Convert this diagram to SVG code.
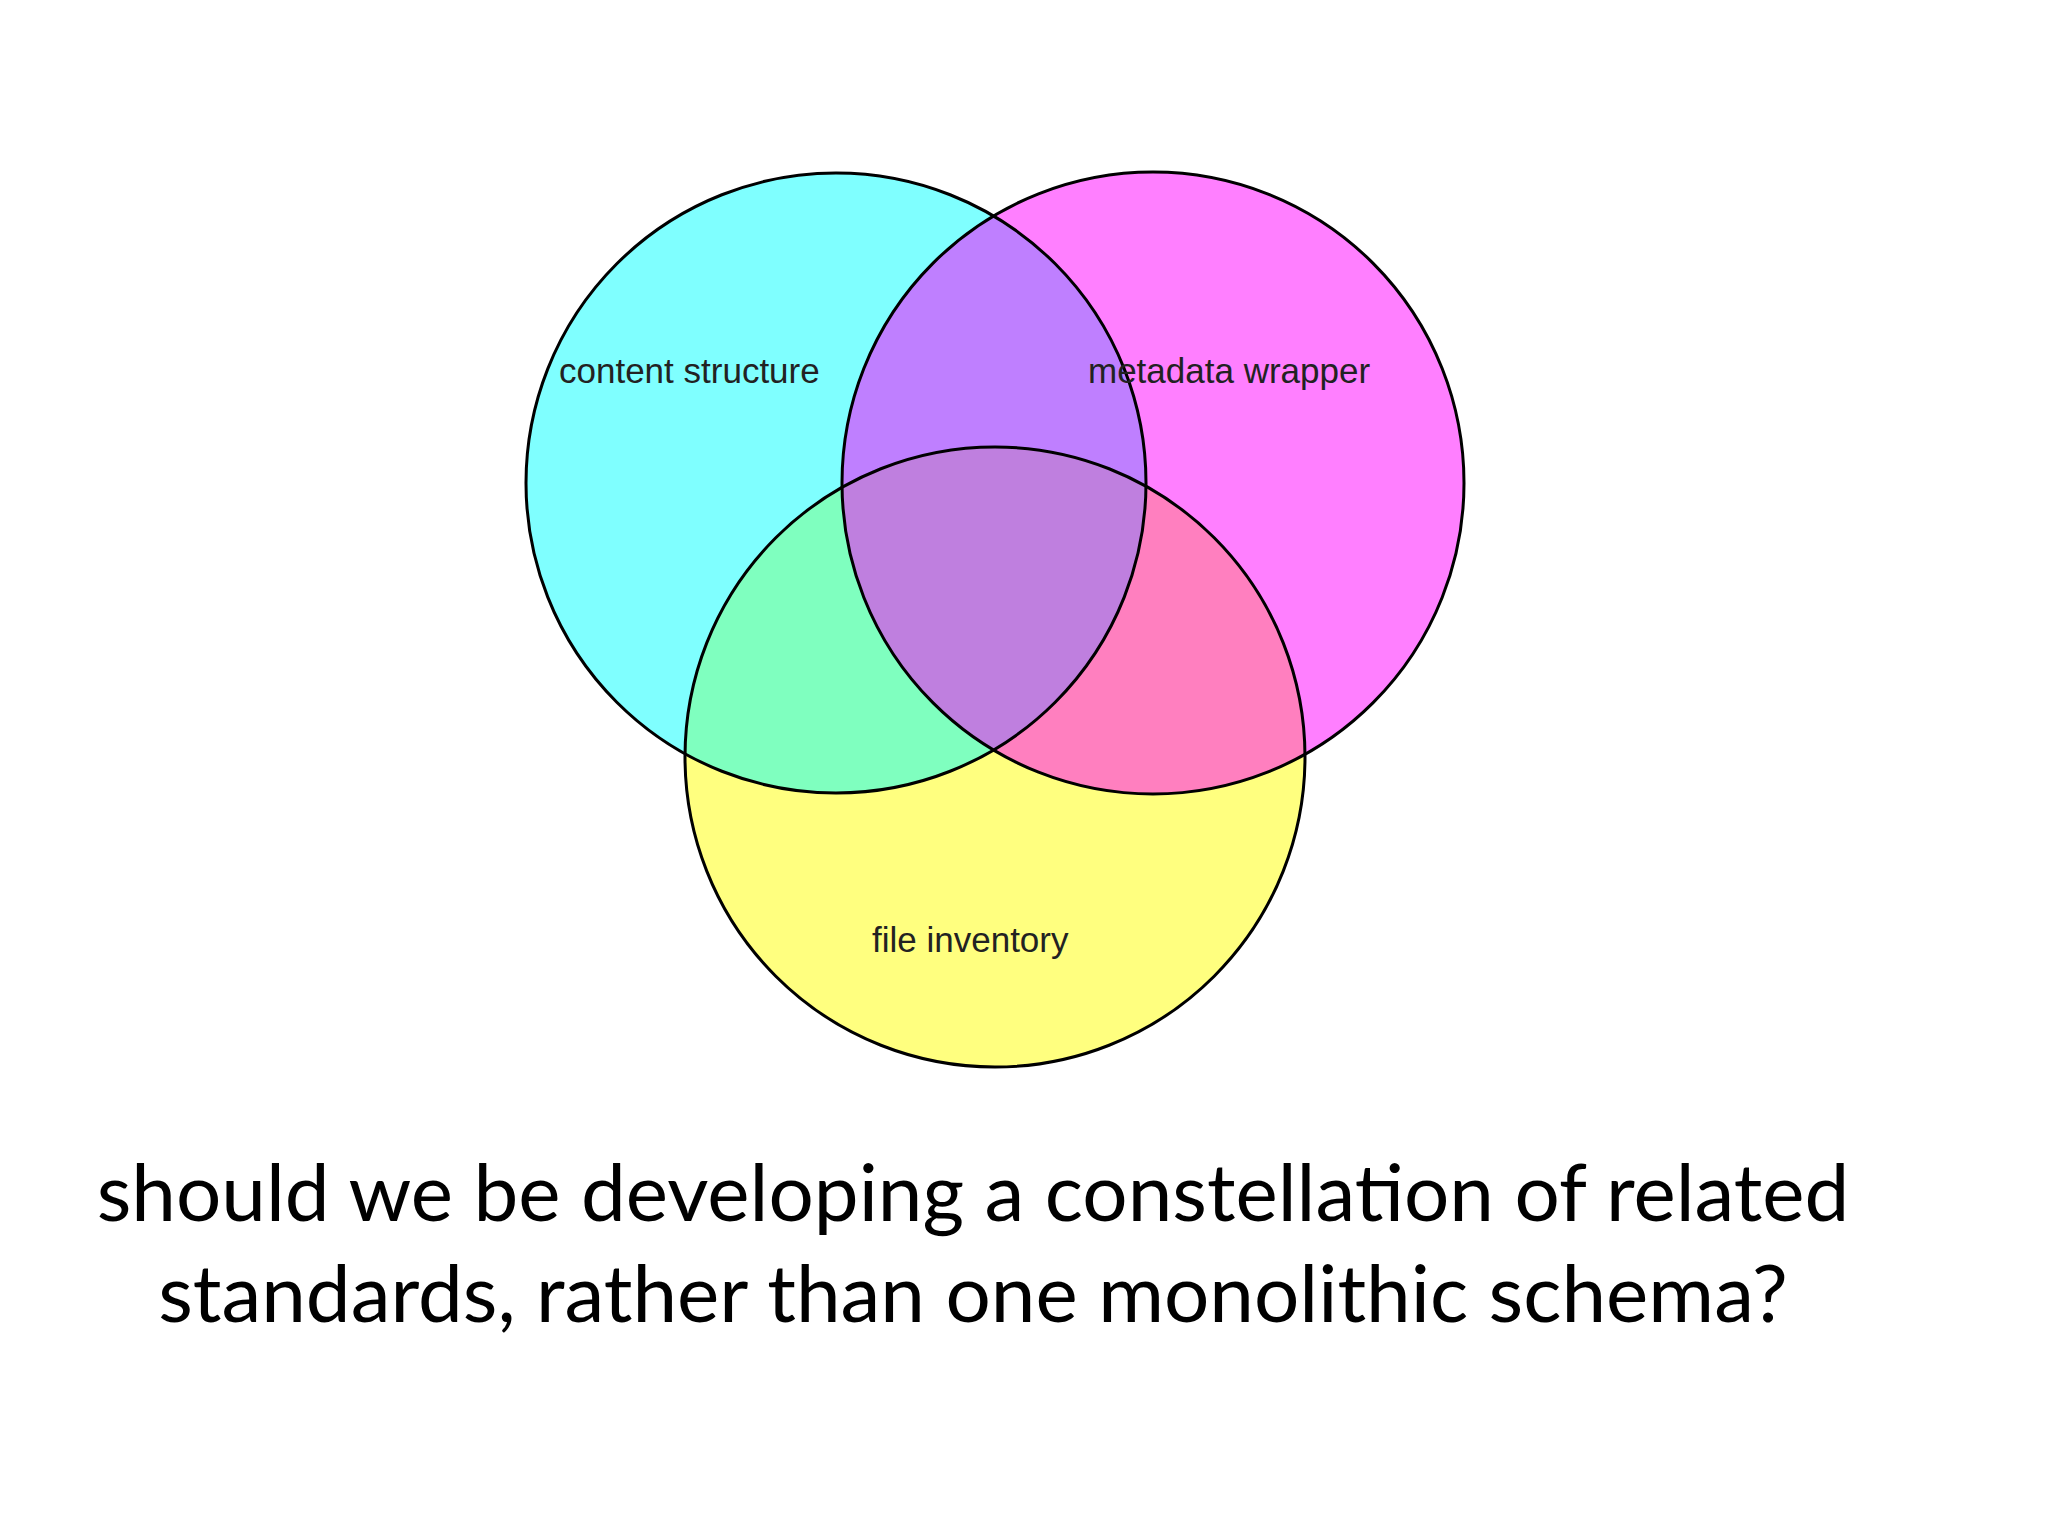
<svg xmlns="http://www.w3.org/2000/svg" width="2048" height="1536" viewBox="0 0 2048 1536">
<style>
.c{fill-opacity:0.5;stroke:none}
.o{fill:none;stroke:#000;stroke-width:3}
.l{font-family:"Liberation Sans",Arial,sans-serif;font-size:35px;fill:#222}
.q{font-family:"Lato","Open Sans",sans-serif;font-size:80px;fill:#000}
</style>
<rect width="2048" height="1536" fill="#fff"/>
<g id="file-inventory"><circle class="c" cx="995" cy="757" r="310" fill="#FFFF00"/></g>
<g id="content-structure"><circle class="c" cx="836" cy="483" r="310" fill="#00FFFF"/></g>
<g id="metadata-wrapper"><circle class="c" cx="1153" cy="483" r="311" fill="#FF00FF"/></g>
<g id="outlines">
<circle class="o" cx="995" cy="757" r="310"/>
<circle class="o" cx="836" cy="483" r="310"/>
<circle class="o" cx="1153" cy="483" r="311"/>
</g>
<text class="l" x="559" y="383">content structure</text>
<text class="l" x="1088" y="383">metadata wrapper</text>
<text class="l" x="872" y="952">file inventory</text>
<text class="q" x="973" y="1221" text-anchor="middle">should we be developing a constellation of related</text>
<text class="q" x="973" y="1322" text-anchor="middle">standards, rather than one monolithic schema?</text>
</svg>
